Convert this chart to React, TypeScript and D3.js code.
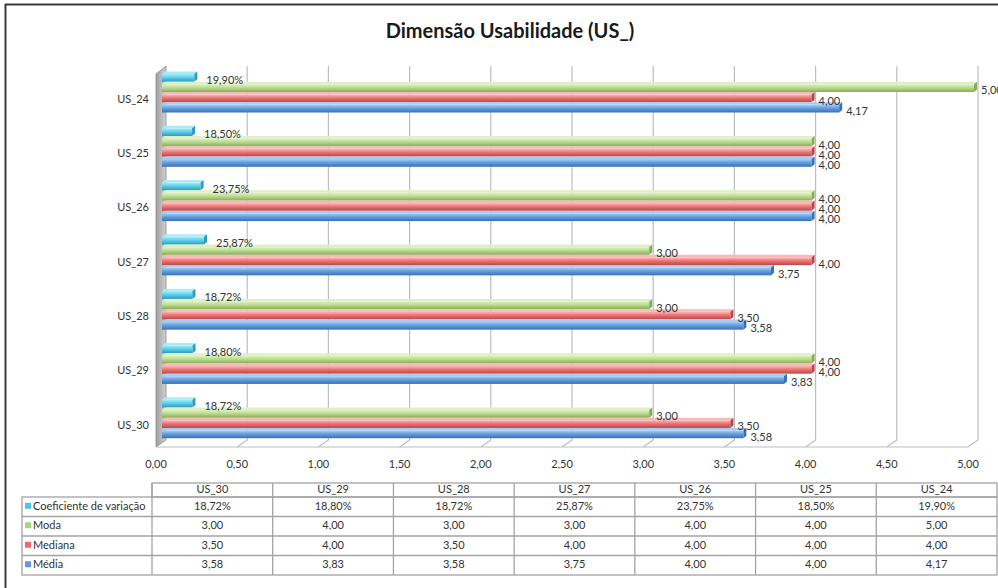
import React from "react";
import * as d3 from "d3";

// Items of the usability dimension, in table order
const categories = ["US_30", "US_29", "US_28", "US_27", "US_26", "US_25", "US_24"];
// Coefficient of variation, in percent
const coefVariacao = [18.72, 18.8, 18.72, 25.87, 23.75, 18.5, 19.9];
const moda = [3.0, 4.0, 3.0, 3.0, 4.0, 4.0, 5.0];
const mediana = [3.5, 4.0, 3.5, 4.0, 4.0, 4.0, 4.0];
const media = [3.58, 3.83, 3.58, 3.75, 4.0, 4.0, 4.17];
const xTicks = [0, 0.5, 1, 1.5, 2, 2.5, 3, 3.5, 4, 4.5, 5];

const W = 998;
const H = 588;
const FONT = "Lato, 'Open Sans', 'DejaVu Sans', sans-serif";

type Series = {
  key: string;
  label: string;
  values: number[];
  isPct: boolean;
  light: string;
  mid: string;
  dark: string;
  swatch: string;
  labelDx: number;
};

// Top-to-bottom inside each group; also the row order of the table
const series: Series[] = [
  { key: "cv", label: "Coeficiente de variação", values: coefVariacao, isPct: true,
    light: "#a8ecf8", mid: "#5ccfea", dark: "#2b9cbc", swatch: "#4cc6e4", labelDx: 9 },
  { key: "moda", label: "Moda", values: moda, isPct: false,
    light: "#dff0c6", mid: "#b9dc8d", dark: "#86ac55", swatch: "#a9d37c", labelDx: 4 },
  { key: "mediana", label: "Mediana", values: mediana, isPct: false,
    light: "#f8b9b9", mid: "#ec7373", dark: "#b94646", swatch: "#e86a6a", labelDx: 4 },
  { key: "media", label: "Média", values: media, isPct: false,
    light: "#a9cdf2", mid: "#619fe0", dark: "#3a70b5", swatch: "#5b9bd9", labelDx: 4 },
];

const fmt = (v: number) => d3.format(".2f")(v).replace(".", ",");
const fmtPct = (v: number) => d3.format(".2f")(v).replace(".", ",") + "%";

// 3D geometry: front plane, bar plane and back wall
const xFront = d3.scaleLinear().domain([0, 5]).range([156, 968]);
const xBar = d3.scaleLinear().domain([0, 5]).range([162, 974]);
const xBack = d3.scaleLinear().domain([0, 5]).range([166, 978]);
const backTop = 66;
const backFloor = 440;
const frontFloor = 447;

const yCat = d3
  .scaleBand<string>()
  .domain([...categories].reverse())
  .range([65, 445])
  .paddingInner(0)
  .paddingOuter(0);
const ySer = d3
  .scaleBand<string>()
  .domain(series.map((s) => s.key))
  .range([6.5, 47.5]);

const BAR_DX = 3; // bar depth, horizontal
const BAR_DY = 2.5; // bar depth, vertical

// Data table layout
const tLeft = 22;
const tColStart = 152;
const tRight = 997;
const tHeaderTop = 483;
const tHeaderBottom = 497;
const tRowH = 19.5;

export default function App() {
  const colW = (tRight - tColStart) / categories.length;
  const gridColor = "#bdbdbd";
  const textColor = "#333333";

  const bars: React.ReactNode[] = [];
  const labels: React.ReactNode[] = [];
  [...categories].reverse().forEach((cat) => {
    const ci = categories.indexOf(cat);
    const g0 = yCat(cat)!;
    series.forEach((s) => {
      const raw = s.values[ci];
      const v = s.isPct ? raw / 100 : raw;
      const yTop = g0 + ySer(s.key)!;
      const h = ySer.bandwidth();
      const x0 = xBar(0);
      const x1 = xBar(v);
      const fy = yTop + BAR_DY; // top of front face
      const fh = h - BAR_DY;
      bars.push(
        <g key={`${cat}-${s.key}`}>
          <polygon
            points={`${x0},${fy} ${x0 + BAR_DX},${yTop} ${x1 + BAR_DX},${yTop} ${x1},${fy}`}
            fill={s.light}
          />
          <rect x={x0} y={fy} width={x1 - x0} height={fh} fill={`url(#grad-${s.key})`} />
          <polygon
            points={`${x1},${fy} ${x1 + BAR_DX},${yTop} ${x1 + BAR_DX},${yTop + fh} ${x1},${fy + fh}`}
            fill={s.dark}
          />
        </g>
      );
      labels.push(
        <text
          key={`l-${cat}-${s.key}`}
          x={x1 + BAR_DX + s.labelDx}
          y={fy + fh / 2 + 3.5}
          fontSize={11}
          fill={textColor}
          dominantBaseline="middle"
        >
          {s.isPct ? fmtPct(raw) : fmt(raw)}
        </text>
      );
    });
  });

  return (
    <svg
      width={W}
      height={H}
      style={{ position: "absolute", left: 0, top: 0, background: "#ffffff" }}
      fontFamily={FONT}
    >
      <defs>
        {series.map((s) => (
          <linearGradient key={s.key} id={`grad-${s.key}`} x1="0" y1="0" x2="0" y2="1">
            <stop offset="0" stopColor={s.light} />
            <stop offset="0.45" stopColor={s.mid} />
            <stop offset="1" stopColor={s.dark} />
          </linearGradient>
        ))}
        <linearGradient id="wall" x1="0" y1="0" x2="1" y2="0">
          <stop offset="0" stopColor="#a0a0a0" />
          <stop offset="1" stopColor="#cfcfcf" />
        </linearGradient>
      </defs>

      <rect x={0} y={0} width={W} height={H} fill="#ffffff" />
      {/* frame */}
      <line x1={5.5} y1={4} x2={5.5} y2={H} stroke="#3a3a3a" strokeWidth={2} />
      <line x1={5} y1={4.5} x2={W} y2={4.5} stroke="#3a3a3a" strokeWidth={2} />

      <text
        x={510}
        y={33}
        textAnchor="middle"
        dominantBaseline="middle"
        fontSize={20}
        fontWeight={700}
        fill="#1a1a1a"
      >
        Dimensão Usabilidade (US_)
      </text>

      {/* left wall */}
      <polygon
        points={`${xFront(0)},${backTop + 8} ${xBack(0)},${backTop} ${xBack(0)},${backFloor} ${xFront(0)},${frontFloor}`}
        fill="url(#wall)"
        stroke="#8c8c8c"
        strokeWidth={0.8}
      />

      {/* gridlines on the back wall, folding onto the floor */}
      {xTicks
        .filter((t) => t > 0)
        .map((t) => (
          <polyline
            key={`g-${t}`}
            points={`${xBack(t)},${backTop} ${xBack(t)},${backFloor} ${xFront(t)},${frontFloor}`}
            fill="none"
            stroke={gridColor}
            strokeWidth={1.2}
          />
        ))}
      <line
        x1={xFront(0)}
        y1={frontFloor}
        x2={xFront(5)}
        y2={frontFloor}
        stroke={gridColor}
        strokeWidth={1.2}
      />

      {/* x tick labels */}
      {xTicks.map((t) => (
        <text
          key={`t-${t}`}
          x={xFront(t)}
          y={465}
          textAnchor="middle"
          dominantBaseline="middle"
          fontSize={11}
          fill={textColor}
        >
          {fmt(t)}
        </text>
      ))}

      {/* category labels */}
      {categories.map((c) => (
        <text
          key={`c-${c}`}
          x={149}
          y={yCat(c)! + yCat.bandwidth() / 2 + 8}
          textAnchor="end"
          dominantBaseline="middle"
          fontSize={11}
          fill={textColor}
        >
          {c}
        </text>
      ))}

      {bars}
      {labels}

      {/* data table */}
      <g stroke="#a3a3a3" strokeWidth={1.3} fill="none">
        <rect x={tColStart} y={tHeaderTop} width={tRight - tColStart} height={tHeaderBottom - tHeaderTop} />
        <rect x={tLeft} y={tHeaderBottom} width={tRight - tLeft} height={tRowH * series.length} />
        {series.map((_, i) =>
          i > 0 ? (
            <line
              key={`rl-${i}`}
              x1={tLeft}
              x2={tRight}
              y1={tHeaderBottom + i * tRowH}
              y2={tHeaderBottom + i * tRowH}
            />
          ) : null
        )}
        {categories.map((_, i) => (
          <line
            key={`cl-${i}`}
            x1={tColStart + i * colW}
            x2={tColStart + i * colW}
            y1={tHeaderTop}
            y2={tHeaderBottom + tRowH * series.length}
          />
        ))}
      </g>
      {categories.map((c, i) => (
        <text
          key={`h-${c}`}
          x={tColStart + (i + 0.5) * colW}
          y={(tHeaderTop + tHeaderBottom) / 2 + 0.5}
          textAnchor="middle"
          dominantBaseline="middle"
          fontSize={11}
          fill={textColor}
        >
          {c}
        </text>
      ))}
      {series.map((s, r) => {
        const cy = tHeaderBottom + (r + 0.5) * tRowH;
        return (
          <g key={`row-${s.key}`}>
            <rect x={25} y={cy - 4} width={6} height={6} fill={s.swatch} />
            <text x={33} y={cy} dominantBaseline="middle" fontSize={11} fill={textColor}>
              {s.label}
            </text>
            {s.values.map((v, i) => (
              <text
                key={`v-${s.key}-${i}`}
                x={tColStart + (i + 0.5) * colW}
                y={cy}
                textAnchor="middle"
                dominantBaseline="middle"
                fontSize={11}
                fill={textColor}
              >
                {s.isPct ? fmtPct(v) : fmt(v)}
              </text>
            ))}
          </g>
        );
      })}
    </svg>
  );
}
